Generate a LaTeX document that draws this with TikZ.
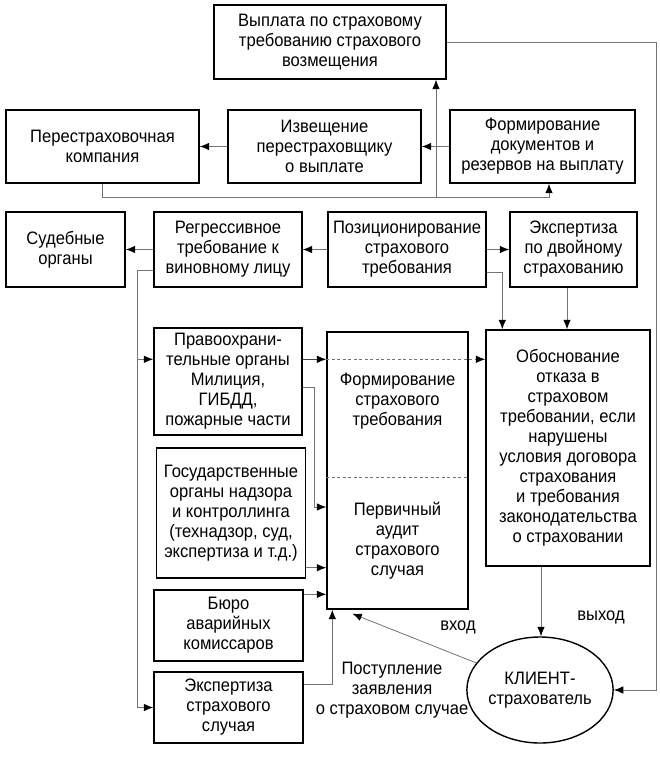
\documentclass[tikz,border=0pt]{standalone}
\usepackage{fontspec}
\setmainfont{Liberation Sans}[FakeStretch=0.92]
\usetikzlibrary{arrows.meta,shapes.geometric,calc}
\begin{document}
\begin{tikzpicture}[x=1pt,y=-1pt,
  every node/.style={font=\fontsize{18}{20}\selectfont, align=center, inner sep=0pt},
  box/.style={draw=black, line width=1.4pt, rectangle},
  conn/.style={draw=black!55, line width=0.8pt},
  arr/.style={conn, -{Latex[length=9.5pt,width=7.5pt,color=black]}},
  dsh/.style={draw=black!55, line width=0.8pt, dash pattern=on 3pt off 2.5pt}]
\useasboundingbox (0,0) rectangle (660,759);
% row 1
\node[box, minimum width=232, minimum height=74] (vyp) at (330,42) {Выплата по страховому\\требованию страхового\\возмещения};
% row 2
\node[box, minimum width=193, minimum height=73] (pere) at (102.5,146.5) {Перестраховочная\\компания};
\node[box, minimum width=193, minimum height=73] (izv) at (324.5,146.5) {Извещение\\перестраховщику\\о выплате};
\node[box, minimum width=185, minimum height=73] (form) at (542.5,146.5) {Формирование\\документов и\\резервов на выплату};
% row 3
\node[box, minimum width=119, minimum height=75] (sud) at (65.5,249.5) {Судебные\\органы};
\node[box, minimum width=148, minimum height=75] (regr) at (228,249.5) {Регрессивное\\требование к\\виновному лицу};
\node[box, minimum width=158, minimum height=75] (poz) at (407,249.5) {Позиционирование\\страхового\\требования};
\node[box, minimum width=127, minimum height=75] (expd) at (573.5,249.5) {Экспертиза\\по двойному\\страхованию};
% left column
\node[box, minimum width=148, minimum height=107] (prav) at (228,381.5) {Правоохрани-\\тельные органы\\Милиция,\\ГИБДД,\\пожарные части};
\node[box, minimum width=149, minimum height=130] (gos) at (231,513) {Государственные\\органы надзора\\и контроллинга\\(технадзор, суд,\\экспертиза и т.д.)};
\node[box, minimum width=149, minimum height=71] (bur) at (228.5,625.5) {Бюро\\аварийных\\комиссаров};
\node[box, minimum width=149, minimum height=71] (exps) at (228.5,707.5) {Экспертиза\\страхового\\случая};
% middle
\node[box, minimum width=141, minimum height=277] (mid) at (397.5,470.5) {};
\node (midA) at (397.5,401) {Формирование\\страхового\\требования};
\node (midB) at (397.5,541) {Первичный\\аудит\\страхового\\случая};
% right
\node[box, minimum width=164, minimum height=236] (obos) at (568,448) {Обоснование\\отказа в\\страховом\\требовании, если\\нарушены\\условия договора\\страхования\\и требования\\законодательства\\о страховании};
\node[draw=black, line width=1.4pt, ellipse, minimum width=142, minimum height=106] (client) at (540,690) {КЛИЕНТ-\\страхователь};
% labels
\node (lvhod) at (458,627) {вход};
\node (lvyh) at (601,617) {выход};
\node (lpost) at (392,690) {Поступление\\заявления\\о страховом случае};
% helper coordinates
\coordinate (j1) at (436,197);
\coordinate (rr) at (656,0);
\coordinate (lb) at (137,0);
\coordinate (v2) at (314,0);
\coordinate (h2) at (0,507);
\coordinate (hd) at (0,477);
\coordinate (fs) at ($(form.south)+(6.5,0)$);
\coordinate (fsl) at ($(form.south)+(6.5,14)$);
\coordinate (pzo) at ($(poz.south east)+(0,-15)$);
\coordinate (obn) at ($(obos.north west)+(17,0)$);
\coordinate (eds) at ($(expd.south)+(-6.5,0)$);
\coordinate (rgo) at ($(regr.south west)+(0,-17)$);
\coordinate (pri) at ($(prav.north west)+(0,32)$);
\coordinate (pro) at ($(prav.north east)+(0,32)$);
\coordinate (pro2) at ($(prav.north east)+(0,60)$);
\coordinate (gso) at ($(gos.south east)+(0,-11)$);
\coordinate (buo) at ($(bur.north east)+(0,5)$);
\coordinate (exo) at ($(exps.north east)+(0,13)$);
\coordinate (msb) at ($(mid.south west)+(6,0)$);
\coordinate (mvh) at ($(mid.south west)+(26,4)$);
\coordinate (obs) at ($(obos.south)+(-27,0)$);
% connectors top
\draw[arr] (form.west) -- (izv.east);
\draw[arr] (izv.west) -- (pere.east);
\draw[arr] (pere.south) |- (fsl) -- (fs);
\draw[arr] (j1) -- (j1 |- vyp.south);
\draw[arr] (vyp.east) -- (vyp.east -| rr) |- (client.east);
% row 3
\draw[arr] (poz.west) -- (regr.east);
\draw[arr] (regr.west) -- (sud.east);
\draw[arr] (poz.east) -- (expd.west);
\draw[arr] (pzo) -| (obn);
\draw[arr] (eds) -- (eds |- obos.north);
% left trunk
\draw[arr] (rgo) -| (lb |- exps.west) -- (exps.west);
\draw[arr] (lb |- pri) -- (pri);
% into middle
\draw[arr, draw=black!75] (pro) -- (pro -| mid.west);
\draw[arr, dsh] (pro -| mid.west) -- (pro -| obos.west);
\draw[arr] (pro2) -| (v2 |- h2) -- (mid.west |- h2);
\draw[arr] (gso) -- (gso -| mid.west);
\draw[arr] (buo) -- (buo -| mid.west);
\draw[arr] (exo) -| (msb);
\draw[dsh] (mid.west |- hd) -- (mid.east |- hd);
% client links
\draw[arr] (client.157) -- (mvh);
\draw[arr] (obs) -- (obs |- client.north);
\end{tikzpicture}
\end{document}
